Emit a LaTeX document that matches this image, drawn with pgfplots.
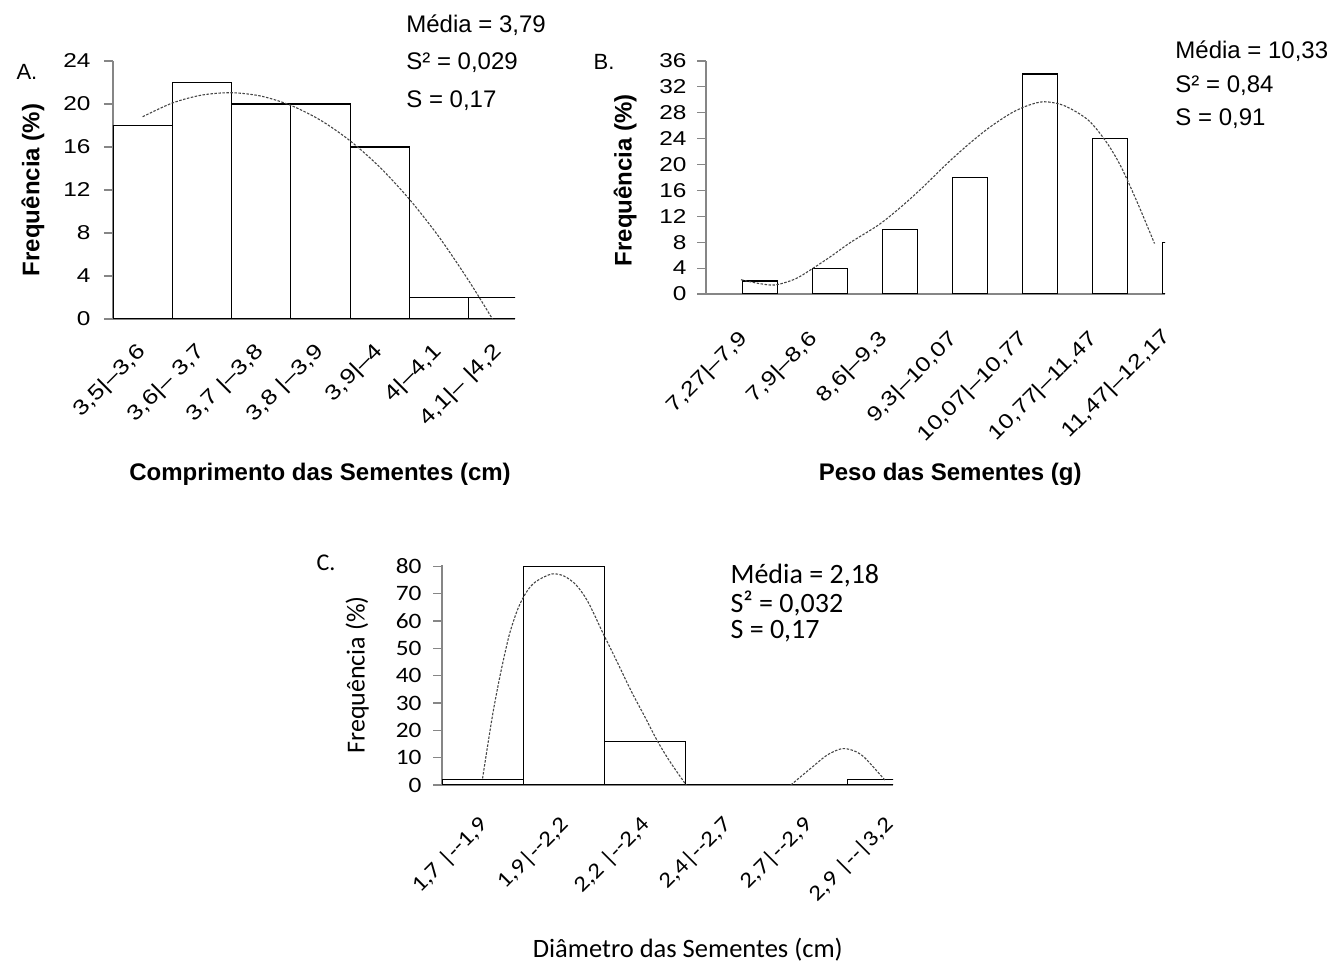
\documentclass[border=0pt]{standalone}
\usepackage{fontspec}
\setmainfont{Liberation Sans}
\newfontfamily\arialw{Liberation Sans}[FakeStretch=1.22]
\newfontfamily\calfont{Carlito}
\newfontfamily\calwfont{Carlito}[FakeStretch=1.15]
\usepackage{pgfplots}
\pgfplotsset{compat=1.18}
\definecolor{axgray}{RGB}{134,134,134}
\definecolor{fitgray}{RGB}{70,70,70}
\pgfplotsset{
  hist/.style={
    scale only axis,
    axis x line=bottom, axis y line=left,
    axis line style={-, draw=axgray, line width=1.2pt},
    ytick style={draw=axgray, line width=1.2pt},
    xtick style={draw=none},
    tick align=outside,
    major tick length=9pt,
    ymin=0,
    /pgf/number format/assume math mode=true,
    clip mode=individual,
  },
  barst/.style={ybar, draw=black, fill=white, line width=1.2pt},
  fitst/.style={smooth, fitgray, line width=1.1pt, dash pattern=on 2.5pt off 1.5pt, mark=none},
}
\begin{document}
\begin{tikzpicture}
\path[use as bounding box] (0,0) rectangle (1342pt,964pt);

% ---------------- A ----------------
\begin{axis}[hist, at={(113pt,645pt)}, anchor=south west, width=402pt, height=258pt,
  xmin=-0.5, xmax=6.28, ymax=24, ytick={0,4,...,24},
  yticklabel style={font=\arialw\fontsize{20}{23}\selectfont, xshift=-10pt},
  xtick={0,...,6},
  xticklabels={{3,5|–3,6},{3,6|– 3,7},{3,7 |–3,8},{3,8 |–3,9},{3,9|–4},{4|–4,1},{4,1|– |4,2}},
  xticklabel style={font=\arialw\fontsize{21}{24}\selectfont, xshift=-7pt, yshift=-13pt, rotate=45, anchor=north east, inner sep=0pt},
  xlabel={Comprimento das Sementes (cm)},
  xlabel style={font=\bfseries\fontsize{24}{28}\selectfont, at={(axis description cs:0.515,-0.60)}, anchor=center},
  ylabel={Frequência (\%)},
  ylabel style={font=\bfseries\fontsize{24}{28}\selectfont, at={(axis description cs:-0.199,0.5)}, anchor=center},
]
\addplot[barst, bar width=1] coordinates {(0,18)(1,22)(2,20)(3,20)(4,16)(5,2)(6,2)};
\addplot[fitst] coordinates {(0,18.81)(0.5,20.09)(1,20.83)(1.5,21.05)(2,20.73)(2.5,19.87)(3,18.49)(3.5,16.57)(4,14.12)(4.5,11.13)(5,7.62)(5.5,3.56)(5.9,0)};
\node[anchor=west, font=\fontsize{24}{27}\selectfont] at (axis description cs:0.721,1.140) {Média = 3,79};
\node[anchor=west, font=\fontsize{24}{27}\selectfont] at (axis description cs:0.721,0.992) {S² = 0,029};
\node[anchor=west, font=\fontsize{24}{27}\selectfont] at (axis description cs:0.721,0.845) {S = 0,17};
\node[font=\fontsize{22}{26}\selectfont] at (axis description cs:-0.214,0.957) {A.};
\end{axis}

% ---------------- B ----------------
\begin{axis}[hist, at={(706pt,670pt)}, anchor=south west, width=459pt, height=233pt,
  xmin=-0.77, xmax=5.79, ymax=36, ytick={0,4,...,36},
  yticklabel style={font=\arialw\fontsize{20}{23}\selectfont, xshift=-7pt},
  xtick={0,...,6},
  xticklabels={{7,27|–7,9},{7,9|–8,6},{8,6|–9,3},{9,3|–10,07},{10,07|–10,77},{10,77|–11,47},{11,47|–12,17}},
  xticklabel style={font=\arialw\fontsize{20.5}{24}\selectfont, xshift=-22pt, yshift=-26pt, rotate=45, anchor=north east, inner sep=0pt},
  xlabel={Peso das Sementes (g)},
  xlabel style={font=\bfseries\fontsize{24}{28}\selectfont, at={(axis description cs:0.532,-0.773)}, anchor=center},
  ylabel={Frequência (\%)},
  ylabel style={font=\bfseries\fontsize{24}{28}\selectfont, at={(axis description cs:-0.176,0.489)}, anchor=center},
]
\addplot[barst, bar width=0.5] coordinates {(0,2)(1,4)(2,10)(3,18)(4,34)(5,24)(6,8)};
\addplot[fitst] coordinates {(-0.27,2.2)(0,1.6)(0.22,1.4)(0.5,2.3)(0.72,3.7)(1,5.7)(1.3,8.0)(1.7,10.7)(2,13.3)(2.3,16.2)(2.68,20.2)(3,23.3)(3.29,25.8)(3.6,28.0)(3.85,29.2)(4.07,29.7)(4.35,29.1)(4.69,26.9)(4.95,23.5)(5.16,19.7)(5.4,14.0)(5.64,7.8)};
\node[font=\arialw\fontsize{20.5}{24}\selectfont, xshift=-19pt, yshift=-32.5pt, rotate=45, anchor=north east, inner sep=0pt] at (axis cs:6,0) {11,47|–12,17};
\node[anchor=west, font=\fontsize{24}{27}\selectfont] at (axis description cs:1.015,1.043) {Média = 10,33};
\node[anchor=west, font=\fontsize{24}{27}\selectfont] at (axis description cs:1.015,0.893) {S² = 0,84};
\node[anchor=west, font=\fontsize{24}{27}\selectfont] at (axis description cs:1.015,0.751) {S = 0,91};
\node[font=\fontsize{22}{26}\selectfont] at (axis description cs:-0.222,0.996) {B.};
\end{axis}

% ---------------- C ----------------
\begin{axis}[hist, at={(442pt,179pt)}, anchor=south west, width=451pt, height=220pt,
  xmin=-0.5, xmax=5.06, ymax=80.5, ytick={0,10,...,80},
  yticklabel style={font=\calwfont\fontsize{22}{25}\selectfont, xshift=-8pt},
  xtick={0,...,5},
  xticklabels={{1,7 |-{}-1,9},{1,9|-{}-2,2},{2,2 |-{}-2,4},{2,4|-{}-2,7},{2,7|-{}-2,9},{2,9 |-{}-|3,2}},
  xticklabel style={font=\calwfont\fontsize{22}{25}\selectfont, xshift=-5pt, yshift=-20pt, rotate=45, anchor=north east, inner sep=0pt},
  xlabel={Diâmetro das Sementes (cm)},
  xlabel style={font=\calfont\fontsize{26.5}{30}\selectfont, at={(axis description cs:0.545,-0.75)}, anchor=center},
  ylabel={Frequência (\%)},
  ylabel style={font=\calfont\fontsize{26}{30}\selectfont, at={(axis description cs:-0.188,0.5)}, anchor=center},
]
\addplot[barst, bar width=1] coordinates {(0,2)(1,80)(2,16)(3,0)(4,0)(5,2)};
\addplot[fitst] coordinates {(0,2.4)(0.12,25)(0.22,40.6)(0.33,55)(0.44,64.8)(0.55,71)(0.66,74.5)(0.85,77.2)(1,76.5)(1.15,73.3)(1.3,67)(1.49,55.2)(1.66,45)(1.83,34.5)(2,25)(2.15,16.4)(2.3,9)(2.51,0)};
\addplot[fitst] coordinates {(3.8,0)(4.07,6.7)(4.25,11)(4.43,13.3)(4.58,12.5)(4.7,10.3)(4.85,5.5)(4.96,1.8)};
\node[anchor=west, font=\calfont\fontsize{28}{31}\selectfont] at (axis description cs:0.632,0.95) {Média = 2,18};
\node[anchor=west, font=\calfont\fontsize{28}{31}\selectfont] at (axis description cs:0.632,0.827) {S² = 0,032};
\node[anchor=west, font=\calfont\fontsize{28}{31}\selectfont] at (axis description cs:0.632,0.70) {S = 0,17};
\node[font=\calfont\fontsize{24}{28}\selectfont] at (axis description cs:-0.257,1.009) {C.};
\end{axis}
\end{tikzpicture}
\end{document}
